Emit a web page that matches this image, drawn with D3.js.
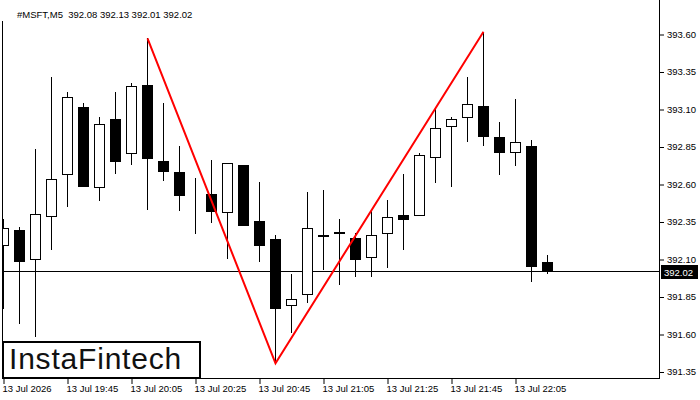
<!DOCTYPE html>
<html>
<head>
<meta charset="utf-8">
<script src="https://cdn.jsdelivr.net/npm/d3@7"></script>
<style>
  html, body { margin: 0; padding: 0; background: #fff; }
  svg { display: block; }
  text { font-family: "Liberation Sans", Arial, sans-serif; }
</style>
</head>
<body>
<svg id="chart" width="700" height="400"></svg>
<script>
// ---- data ----
const symbol = "#MSFT,M5";
const dateLabel = "13 Jul 2026";
const times = ["19:25","19:30","19:35","19:40","19:45","19:50","19:55","20:00","20:05","20:10",
               "20:15","20:20","20:25","20:30","20:35","20:40","20:45","20:50","20:55","21:00",
               "21:05","21:10","21:15","21:20","21:25","21:30","21:35","21:40","21:45","21:50",
               "21:55","22:00","22:05","22:10","22:15"];
const open  = [392.193,392.293,392.102,392.389,392.669,393.113,392.578,393.033,392.805,393.260,
               392.753,392.680,392.545,392.533,392.411,392.727,392.353,392.233,391.791,391.865,
               392.259,392.279,392.238,392.111,392.271,392.391,392.391,392.778,392.985,393.045,
               393.118,392.911,392.811,392.853,392.08];
const high  = [392.367,392.315,392.833,393.315,393.213,393.140,393.047,393.213,393.273,393.571,
               393.140,392.853,392.640,392.760,392.740,392.727,392.613,392.260,392.000,392.547,
               392.560,392.367,392.271,392.427,392.493,392.667,392.807,393.105,393.047,393.313,
               393.615,393.013,393.167,392.893,392.13];
const low   = [391.773,391.675,391.587,392.167,392.453,392.585,392.493,392.675,392.735,392.435,
               392.629,392.429,392.275,392.349,392.109,392.329,392.089,391.405,391.613,391.815,
               392.031,391.935,391.989,391.989,392.049,392.169,392.391,392.615,392.589,392.889,
               392.862,392.669,392.729,391.955,392.01];
const close = [392.305,392.089,392.400,392.631,393.178,392.589,392.998,392.755,393.251,392.775,
               392.689,392.529,392.545,392.422,392.738,392.329,392.195,391.775,391.831,392.305,
               392.252,392.272,392.102,392.258,392.378,392.365,392.791,392.971,393.031,393.131,
               392.922,392.815,392.878,392.055,392.02];
const priceTicks = [391.35,391.60,391.85,392.10,392.35,392.60,392.85,393.10,393.35,393.60];
const timeTickIdx = [0,4,8,12,16,20,24,28,32];
// double-top pattern: peak (high), trough (low), peak (high)
const patternIdx = [9,17,30];
const patternKind = ["high","low","high"];
const logoText = "InstaFintech";

// ---- layout ----
const svg = d3.select("#chart");
const plotL = 3, plotR = 659, plotT = 0, plotB = 378;

const x = d3.scalePoint().domain(times).range([3, 3 + 16 * (times.length - 1)]);
const y = d3.scaleLinear().domain([391.35, 393.60]).range([371.5, 34]);

const candles = times.map((t, i) => ({t, i, o: open[i], h: high[i], l: low[i], c: close[i]}));

svg.append("defs").append("clipPath").attr("id", "plotClip")
  .append("rect").attr("x", plotL).attr("y", plotT).attr("width", plotR - plotL).attr("height", plotB - plotT);

const plot = svg.append("g").attr("clip-path", "url(#plotClip)");

// last price line
const lastPrice = close[close.length - 1];
const ly = Math.round(y(lastPrice)) + 0.5;
plot.append("line").attr("x1", plotL).attr("x2", plotR).attr("y1", ly).attr("y2", ly)
  .attr("stroke", "#000").attr("stroke-width", 1);

// wicks
plot.selectAll("line.wick").data(candles).join("line").attr("class", "wick")
  .attr("x1", d => Math.round(x(d.t)) + 0.5).attr("x2", d => Math.round(x(d.t)) + 0.5)
  .attr("y1", d => Math.round(y(d.h))).attr("y2", d => Math.round(y(d.l)) + 1)
  .attr("stroke", "#000").attr("stroke-width", 1);

// bodies
plot.selectAll("rect.body").data(candles).join("rect").attr("class", "body")
  .attr("x", d => Math.round(x(d.t)) - 5 + 0.5)
  .attr("y", d => Math.round(y(Math.max(d.o, d.c))) + 0.5)
  .attr("width", 10)
  .attr("height", d => Math.round(y(Math.min(d.o, d.c))) - Math.round(y(Math.max(d.o, d.c))))
  .attr("fill", d => d.c > d.o ? "#fff" : "#000")
  .attr("stroke", "#000").attr("stroke-width", 1);

// pattern line
const patPts = patternIdx.map((k, j) => [x(times[k]) + 0.5, y(patternKind[j] === "high" ? high[k] : low[k])]);
plot.append("path").attr("d", d3.line()(patPts))
  .attr("fill", "none").attr("stroke", "#ff0000").attr("stroke-width", 2).attr("stroke-linejoin", "miter");

// frame
svg.append("line").attr("x1", 2.5).attr("x2", 2.5).attr("y1", 21).attr("y2", plotB + 1).attr("stroke", "#000");
svg.append("line").attr("x1", 2).attr("x2", plotR + 1).attr("y1", plotB + 0.5).attr("y2", plotB + 0.5).attr("stroke", "#000");
svg.append("line").attr("x1", plotR + 0.5).attr("x2", plotR + 0.5).attr("y1", 0).attr("y2", plotB + 1).attr("stroke", "#000");

// right axis
const yAxis = d3.axisRight(y).tickValues(priceTicks).tickSize(4).tickPadding(3).tickFormat(d3.format(".2f"));
const gy = svg.append("g").attr("transform", `translate(${plotR + 1},0)`).call(yAxis);
gy.select(".domain").remove();
gy.selectAll(".tick line").attr("stroke", "#000").attr("transform", "translate(0,0.5)");
gy.selectAll(".tick text").attr("fill", "#000").attr("font-size", "9.5px")
  .attr("font-family", "Liberation Sans, Arial, sans-serif").attr("dy", "0.35em");

// price label
svg.append("rect").attr("x", plotR + 2).attr("y", Math.round(y(lastPrice)) - 6).attr("width", 37).attr("height", 14).attr("fill", "#000");
svg.append("text").attr("x", plotR + 5).attr("y", Math.round(y(lastPrice)) + 4.5)
  .attr("fill", "#fff").attr("font-size", "9.5px").text(lastPrice.toFixed(2));

// bottom axis
const xAxis = d3.axisBottom(x).tickValues(timeTickIdx.map(k => times[k])).tickSize(5).tickPadding(1)
  .tickFormat(t => t === times[0] ? dateLabel : "13 Jul " + t);
const gx = svg.append("g").attr("transform", `translate(0.5,${plotB + 1})`).call(xAxis);
gx.select(".domain").remove();
gx.selectAll(".tick line").attr("stroke", "#000");
gx.selectAll(".tick text").attr("fill", "#000").attr("font-size", "9.5px")
  .attr("font-family", "Liberation Sans, Arial, sans-serif")
  .attr("text-anchor", "start").attr("x", -1.5);

// title
svg.append("text").attr("x", 17).attr("y", 18).attr("font-size", "9.5px").attr("fill", "#000")
  .style("white-space", "pre").attr("xml:space", "preserve")
  .text(`${symbol}  ${open[34].toFixed(2)} ${high[34].toFixed(2)} ${low[34].toFixed(2)} ${close[34].toFixed(2)}`);

// logo
svg.append("rect").attr("x", 3).attr("y", 342).attr("width", 197).attr("height", 36)
  .attr("fill", "#fff").attr("stroke", "#000").attr("stroke-width", 2);
svg.append("text").attr("x", 9).attr("y", 369).attr("font-size", "30px").attr("font-weight", 500)
  .attr("letter-spacing", "0.8px")
  .attr("font-family", "'Open Sans', sans-serif").attr("fill", "#111").text(logoText);
</script>
</body>
</html>
